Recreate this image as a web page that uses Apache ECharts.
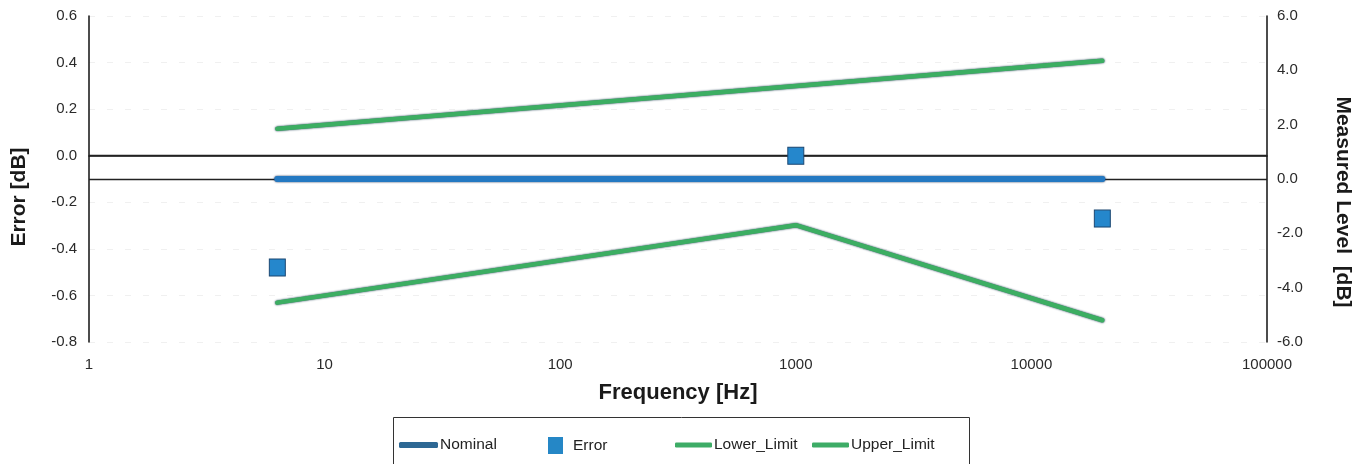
<!DOCTYPE html>
<html>
<head>
<meta charset="utf-8">
<script src="https://cdn.jsdelivr.net/npm/echarts@6/dist/echarts.min.js"></script>
<style>
  html, body { margin: 0; padding: 0; background: #fff; }
  #chart { width: 1370px; height: 464px; }
</style>
</head>
<body>
<div id="chart"></div>
<script>
// Test frequencies [Hz]
const frequencies = [6.3, 1000, 20000];
// Level deviation at each frequency [dB] (left axis)
const errorValues = [-0.48, 0.0, -0.27];
// Measured level references [dB] (right axis)
const nominalLevels = [0, 0, 0];
const lowerLimit = [-4.55, -1.7, -5.2];
const upperLimit = [1.85, null, 4.35];
// Axis tick settings
const errorTicks = { min: -0.8, max: 0.6, step: 0.2 };
const levelTicks = { min: -6, max: 6, step: 2 };
const freqRange = { min: 1, max: 100000 };

const pairs = (vals) => frequencies.map((f, i) => [f, vals[i]]);

const FONT = '"Liberation Sans", Arial, sans-serif';
const chart = echarts.init(document.getElementById('chart'), null, { renderer: 'canvas' });

const legendCommon = {
  orient: 'horizontal',
  top: 437,
  padding: 0,
  itemGap: 0,
  selectedMode: false,
  textStyle: { fontFamily: FONT, fontSize: 15.5, color: '#222', padding: [0, 0, 0, -3] }
};

chart.setOption({
  animation: false,
  backgroundColor: '#ffffff',
  grid: { left: 89, right: 103, top: 16, bottom: 122, containLabel: false },
  xAxis: {
    type: 'log',
    logBase: 10,
    min: freqRange.min,
    max: freqRange.max,
    axisLine: { show: true, lineStyle: { color: '#111', width: 1.5 } },
    axisTick: { show: false },
    splitLine: { show: false },
    minorTick: { show: false },
    axisLabel: {
      fontFamily: FONT, fontSize: 15, color: '#2a2a2a', margin: 15,
      formatter: (v) => String(Math.round(v))
    }
  },
  yAxis: [
    {
      type: 'value',
      position: 'left',
      min: errorTicks.min,
      max: errorTicks.max,
      interval: errorTicks.step,
      axisLine: { show: true, onZero: false, lineStyle: { color: '#111', width: 1.5 } },
      axisTick: { show: false },
      splitLine: { show: true, lineStyle: { color: '#f0f0f0', type: [6, 12], width: 1 } },
      axisLabel: {
        fontFamily: FONT, fontSize: 15, color: '#2a2a2a', margin: 12,
        formatter: (v) => v.toFixed(1)
      }
    },
    {
      type: 'value',
      position: 'right',
      min: levelTicks.min,
      max: levelTicks.max,
      interval: levelTicks.step,
      axisLine: { show: true, onZero: false, lineStyle: { color: '#111', width: 1.5 } },
      axisTick: { show: false },
      splitLine: { show: false },
      axisLabel: {
        fontFamily: FONT, fontSize: 15, color: '#2a2a2a', margin: 10,
        formatter: (v) => v.toFixed(1)
      }
    }
  ],
  legend: [
    Object.assign({}, legendCommon, {
      left: 399, icon: 'roundRect', itemWidth: 39, itemHeight: 6,
      data: [{ name: 'Nominal', itemStyle: { color: '#2d6894' } }]
    }),
    Object.assign({}, legendCommon, {
      left: 548, icon: 'rect', itemWidth: 15, itemHeight: 17,
      textStyle: Object.assign({}, legendCommon.textStyle, { padding: [0, 0, 0, 5] }),
      data: [{ name: 'Error', itemStyle: { color: '#2587c6', opacity: 1, borderWidth: 0 } }]
    }),
    Object.assign({}, legendCommon, {
      left: 675, icon: 'roundRect', itemWidth: 37, itemHeight: 5,
      data: [{ name: 'Lower_Limit', itemStyle: { color: '#3dac66' } }]
    }),
    Object.assign({}, legendCommon, {
      left: 812, icon: 'roundRect', itemWidth: 37, itemHeight: 5,
      data: [{ name: 'Upper_Limit', itemStyle: { color: '#3dac66' } }]
    })
  ],
  graphic: [
    {
      type: 'rect', silent: true, z: 0,
      shape: { x: 393.5, y: 417.5, width: 576, height: 60 },
      style: { fill: 'none', stroke: '#333', lineWidth: 1 }
    },
    {
      type: 'text', x: 19, y: 197, rotation: Math.PI / 2,
      style: {
        text: 'Error [dB]', fontFamily: FONT, fontSize: 21, fontWeight: 'bold',
        fill: '#1a1a1a', align: 'center', verticalAlign: 'middle'
      }
    },
    {
      type: 'text', x: 1343, y: 202, rotation: -Math.PI / 2,
      style: {
        text: 'Measured Level  [dB]', fontFamily: FONT, fontSize: 21, fontWeight: 'bold',
        fill: '#1a1a1a', align: 'center', verticalAlign: 'middle'
      }
    },
    {
      type: 'text', x: 678, y: 393,
      style: {
        text: 'Frequency [Hz]', fontFamily: FONT, fontSize: 22, fontWeight: 'bold',
        fill: '#1a1a1a', align: 'center', verticalAlign: 'middle'
      }
    }
  ],
  series: [
    {
      name: 'Nominal',
      type: 'line',
      yAxisIndex: 1,
      data: pairs(nominalLevels),
      showSymbol: false,
      lineStyle: {
        color: '#2479c2', width: 6, cap: 'round',
        shadowColor: 'rgba(15,35,75,1)', shadowBlur: 2
      },
      itemStyle: { color: '#2d6894' },
      z: 3,
      markLine: {
        silent: true,
        symbol: 'none',
        label: { show: false },
        lineStyle: { color: '#222', width: 1.3, type: 'solid' },
        data: [{ yAxis: 0 }],
        z: 1
      }
    },
    {
      name: 'Error',
      type: 'scatter',
      yAxisIndex: 0,
      data: pairs(errorValues),
      symbol: 'rect',
      symbolSize: [16, 17],
      itemStyle: { color: '#2587cc', opacity: 1, borderColor: '#1b4670', borderWidth: 1 },
      z: 5,
      markLine: {
        silent: true,
        symbol: 'none',
        label: { show: false },
        lineStyle: { color: '#222', width: 1.3, type: 'solid' },
        data: [{ yAxis: 0 }],
        z: 1
      }
    },
    {
      name: 'Lower_Limit',
      type: 'line',
      yAxisIndex: 1,
      data: pairs(lowerLimit),
      showSymbol: false,
      lineStyle: {
        color: '#3cae62', width: 4.5, cap: 'round', join: 'round',
        shadowColor: 'rgba(15,50,70,1)', shadowBlur: 2
      },
      itemStyle: { color: '#3dac66' },
      z: 4
    },
    {
      name: 'Upper_Limit',
      type: 'line',
      yAxisIndex: 1,
      data: pairs(upperLimit),
      connectNulls: true,
      showSymbol: false,
      lineStyle: {
        color: '#3cae62', width: 4.5, cap: 'round', join: 'round',
        shadowColor: 'rgba(15,50,70,1)', shadowBlur: 2
      },
      itemStyle: { color: '#3dac66' },
      z: 4
    }
  ]
});
</script>
</body>
</html>
